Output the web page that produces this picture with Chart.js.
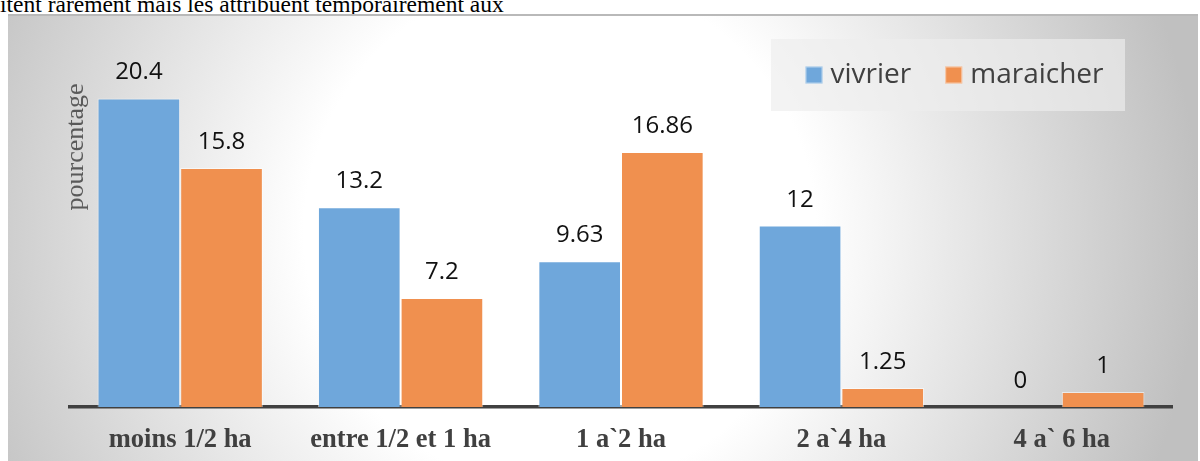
<!DOCTYPE html>
<html lang="fr">
<head>
<meta charset="utf-8">
<title>Superficie des parcelles</title>
<script src="https://cdn.jsdelivr.net/npm/chart.js@4/dist/chart.umd.min.js"></script>
<style>
  html, body { margin: 0; padding: 0; background: #fff; }
  body { width: 1200px; height: 461px; position: relative; overflow: hidden; }
  #texte {
    position: absolute; left: 0; top: -9px; white-space: nowrap;
    font-family: "Liberation Serif", "Times New Roman", serif; font-size: 23.5px; color: #000;
  }
  #cadre {
    position: absolute; left: 8px; top: 14px; width: 1190px; height: 447px;
    border-top: 2px solid #b9b9b9;
    background: radial-gradient(circle 640px at 552px 216px, #ffffff 0%, #ffffff 40%, #c0c0c0 100%);
  }
  #graphique { position: absolute; left: 0; top: 0; }
</style>
</head>
<body>
<div id="texte">itent rarement mais les attribuent temporairement aux</div>
<div id="cadre"></div>
<canvas id="graphique" width="1200" height="461"></canvas>
<script>
// Tranches de superficie et pourcentages par type de culture
const categories = ["moins 1/2 ha", "entre 1/2 et 1 ha", "1 a`2 ha", "2 a`4 ha", "4 a` 6 ha"];
const vivrier = [20.4, 13.2, 9.63, 12, 0];
const maraicher = [15.8, 7.2, 16.86, 1.25, 1];
const seriesNames = ["vivrier", "maraicher"];
const yTitle = "pourcentage";

const BLUE = "#6fa7db";
const ORANGE = "#f0904f";

// Valeur écrite au-dessus de chaque barre
const valueLabels = {
  id: "valueLabels",
  afterDatasetsDraw(chart) {
    const ctx = chart.ctx;
    ctx.save();
    ctx.font = "24px 'Open Sans', 'Noto Sans', sans-serif";
    ctx.fillStyle = "#111";
    ctx.textAlign = "center";
    ctx.textBaseline = "alphabetic";
    chart.data.datasets.forEach((ds, di) => {
      chart.getDatasetMeta(di).data.forEach((bar, i) => {
        ctx.fillText(String(ds.data[i]), bar.x, bar.y - 19);
      });
    });
    ctx.restore();
  }
};

// Titre vertical de l'axe des valeurs
const axisTitle = {
  id: "axisTitle",
  afterDraw(chart) {
    const ctx = chart.ctx;
    ctx.save();
    ctx.translate(83, 147);
    ctx.rotate(-Math.PI / 2);
    ctx.font = "26px 'Liberation Serif', 'Times New Roman', serif";
    ctx.fillStyle = "#595959";
    ctx.textAlign = "center";
    ctx.textBaseline = "alphabetic";
    ctx.fillText(yTitle, 0, 0);
    ctx.restore();
  }
};

// Légende dans un encadré clair en haut à droite
const boxLegend = {
  id: "boxLegend",
  afterDraw(chart) {
    const ctx = chart.ctx;
    ctx.save();
    ctx.fillStyle = "rgba(237,237,237,0.67)";
    ctx.fillRect(771, 39, 354, 72);
    ctx.font = "28px 'Open Sans', 'Noto Sans', sans-serif";
    ctx.textBaseline = "alphabetic";
    let x = 805.5;
    chart.data.datasets.forEach(ds => {
      ctx.fillStyle = ds.backgroundColor;
      ctx.fillRect(x, 66.5, 17, 17);
      ctx.strokeStyle = "rgba(255,255,255,0.5)";
      ctx.lineWidth = 1;
      ctx.strokeRect(x + 0.5, 67, 16, 16);
      x += 25;
      ctx.fillStyle = "#404040";
      ctx.fillText(ds.label, x, 83);
      x += ctx.measureText(ds.label).width + 34;
    });
    ctx.restore();
  }
};

new Chart(document.getElementById("graphique"), {
  type: "bar",
  data: {
    labels: categories,
    datasets: [
      { label: seriesNames[0], data: vivrier, backgroundColor: BLUE,
        borderColor: "rgba(255,255,255,0.55)", borderWidth: 1 },
      { label: seriesNames[1], data: maraicher, backgroundColor: ORANGE,
        borderColor: "rgba(255,255,255,0.55)", borderWidth: 1 }
    ]
  },
  options: {
    responsive: false,
    animation: false,
    events: [],
    layout: { padding: { left: 70, right: 28, top: 44, bottom: 0 } },
    datasets: { bar: { categoryPercentage: 0.75, barPercentage: 1 } },
    plugins: {
      legend: { display: false },
      tooltip: { enabled: false },
      title: { display: false }
    },
    scales: {
      x: {
        grid: { display: false, drawTicks: false },
        border: { display: true, color: "#404040", width: 3.5 },
        ticks: {
          color: "#404040",
          padding: 17,
          font: { family: "'Liberation Serif', 'Times New Roman', serif", size: 26.5, weight: "bold" }
        },
        afterFit(scale) { scale.height = 54; }
      },
      y: {
        display: false,
        min: 0,
        max: 24
      }
    }
  },
  plugins: [valueLabels, axisTitle, boxLegend]
});
</script>
</body>
</html>
